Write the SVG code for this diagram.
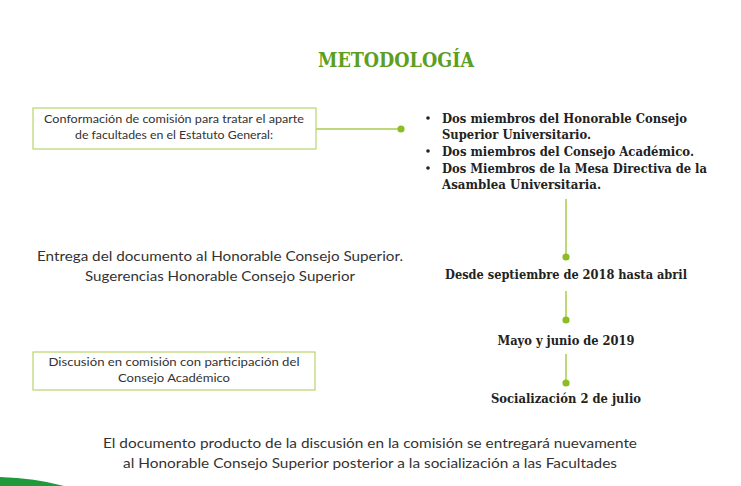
<svg xmlns="http://www.w3.org/2000/svg" width="741" height="486" viewBox="0 0 741 486">
<style>
.title{font-family:"DejaVu Serif","Liberation Serif",serif;font-weight:bold;font-size:21px;fill:#5c9e1f}
.box{fill:#fff;stroke:#b9d46c;stroke-width:1.2}
.bt{font-family:"Lato","Open Sans",sans-serif;font-size:12px;fill:#333;text-anchor:middle}
.lt{font-family:"Lato","Open Sans",sans-serif;font-size:14px;fill:#333;text-anchor:middle}
.st{font-family:"DejaVu Serif","Liberation Serif",serif;font-weight:bold;font-size:13px;fill:#222}
.ct{font-family:"DejaVu Serif","Liberation Serif",serif;font-weight:bold;font-size:13.5px;fill:#222;text-anchor:middle}
.line{stroke:#a9cc4a;stroke-width:1.5;fill:none}
.dot{fill:#8dbd24}
</style>
<rect width="741" height="486" fill="#fff"/>
<text class="title" x="396" y="67" text-anchor="middle" textLength="156" lengthAdjust="spacingAndGlyphs">METODOLOGÍA</text>

<g id="connectors">
<line class="line" x1="316" y1="129" x2="401" y2="129"/>
<circle class="dot" cx="401" cy="129" r="3.6"/>
<line class="line" x1="566" y1="199" x2="566" y2="257"/>
<circle class="dot" cx="566" cy="257" r="3.6"/>
<line class="line" x1="566" y1="291" x2="566" y2="320"/>
<circle class="dot" cx="566" cy="320" r="3.6"/>
<line class="line" x1="566" y1="354" x2="566" y2="383"/>
<circle class="dot" cx="566" cy="383" r="3.6"/>
</g>

<g id="box-conformacion">
<rect class="box" x="33" y="108" width="283" height="41"/>
<text class="bt" x="174" y="123" textLength="260" lengthAdjust="spacingAndGlyphs">Conformación de comisión para tratar el aparte</text>
<text class="bt" x="174" y="139" textLength="198" lengthAdjust="spacingAndGlyphs">de facultades en el Estatuto General:</text>
</g>

<g id="miembros">
<circle cx="428" cy="118" r="1.8" fill="#222"/>
<circle cx="428" cy="151" r="1.8" fill="#222"/>
<circle cx="428" cy="168" r="1.8" fill="#222"/>
<text class="st" x="442" y="123" textLength="245" lengthAdjust="spacingAndGlyphs">Dos miembros del Honorable Consejo</text>
<text class="st" x="442" y="139" textLength="149" lengthAdjust="spacingAndGlyphs">Superior Universitario.</text>
<text class="st" x="442" y="156" textLength="252" lengthAdjust="spacingAndGlyphs">Dos miembros del Consejo Académico.</text>
<text class="st" x="442" y="173" textLength="265" lengthAdjust="spacingAndGlyphs">Dos Miembros de la Mesa Directiva de la</text>
<text class="st" x="442" y="189" textLength="159" lengthAdjust="spacingAndGlyphs">Asamblea Universitaria.</text>
</g>

<g id="entrega">
<text class="lt" x="220" y="261" textLength="366" lengthAdjust="spacingAndGlyphs">Entrega del documento al Honorable Consejo Superior.</text>
<text class="lt" x="220" y="281" textLength="270" lengthAdjust="spacingAndGlyphs">Sugerencias Honorable Consejo Superior</text>
</g>

<g id="desde">
<text class="ct" x="566" y="279" textLength="242" lengthAdjust="spacingAndGlyphs">Desde septiembre de 2018 hasta abril</text>
</g>

<g id="mayo">
<text class="ct" x="566" y="345" textLength="137" lengthAdjust="spacingAndGlyphs">Mayo y junio de 2019</text>
</g>

<g id="box-discusion">
<rect class="box" x="33" y="352" width="282" height="38"/>
<text class="bt" x="174" y="366" textLength="251" lengthAdjust="spacingAndGlyphs">Discusión en comisión con participación del</text>
<text class="bt" x="174" y="382" textLength="112" lengthAdjust="spacingAndGlyphs">Consejo Académico</text>
</g>

<g id="socializacion">
<text class="ct" x="566" y="403" textLength="150" lengthAdjust="spacingAndGlyphs">Socialización 2 de julio</text>
</g>

<g id="final">
<text class="lt" x="370" y="448" textLength="534" lengthAdjust="spacingAndGlyphs">El documento producto de la discusión en la comisión se entregará nuevamente</text>
<text class="lt" x="370" y="468" textLength="494" lengthAdjust="spacingAndGlyphs">al Honorable Consejo Superior posterior a la socialización a las Facultades</text>
</g>

<path d="M0,477 Q35,478 64,486 L0,486 Z" fill="#1e9a3c"/>
</svg>
